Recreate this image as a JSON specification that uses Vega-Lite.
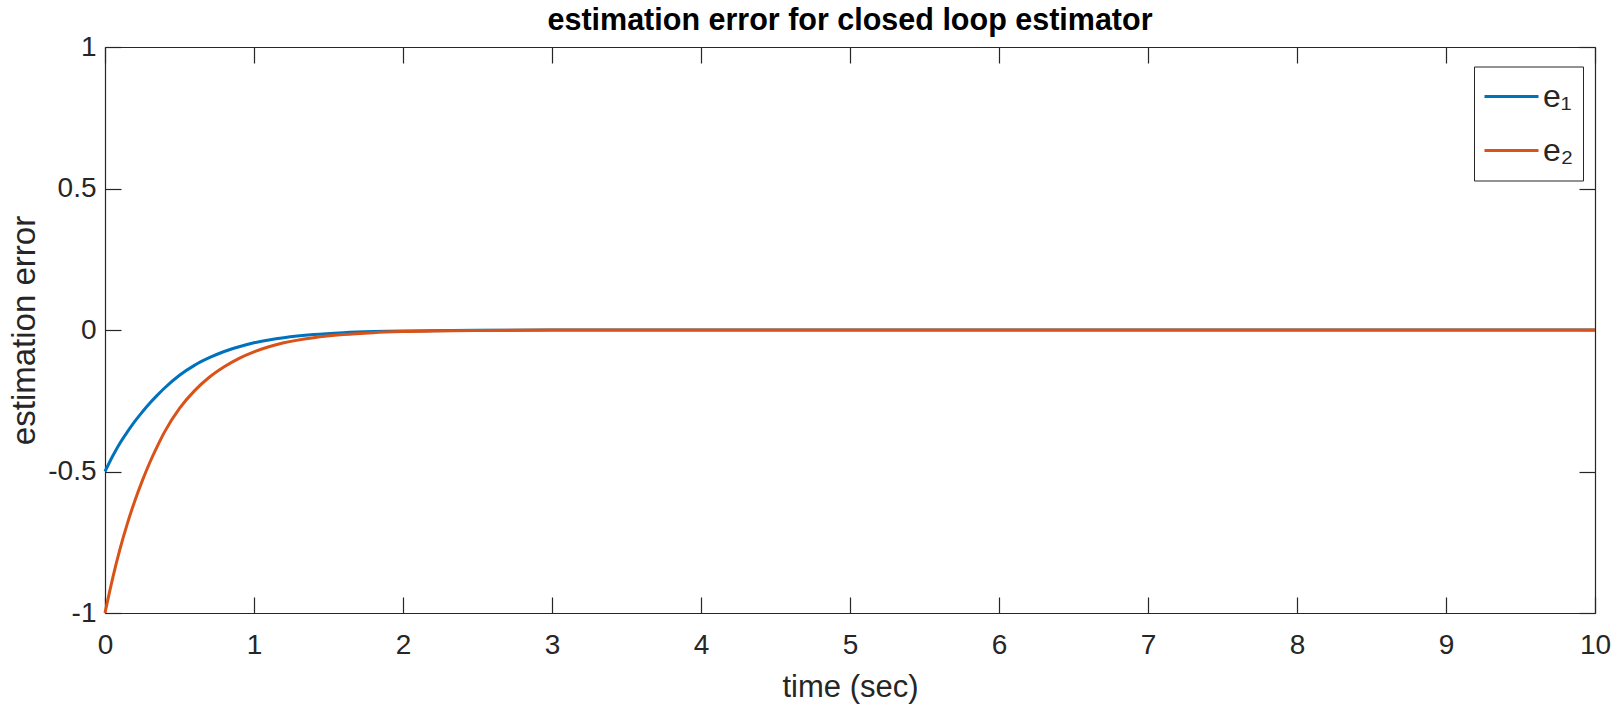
{
  "$schema": "https://vega.github.io/schema/vega-lite/v6.json",
  "width": 1490,
  "height": 566,
  "autosize": {"type": "none"},
  "padding": {"left": 105, "top": 47, "right": 28, "bottom": 93},
  "background": "white",
  "title": {"text": "estimation error for closed loop estimator", "fontSize": 30.5, "fontWeight": "bold", "font": "Liberation Sans", "color": "black", "anchor": "middle", "frame": "group", "baseline": "bottom", "offset": -33},
  "data": {"values": [
    {"t": 0, "series": "e₁", "v": -0.5},
    {"t": 0.05, "series": "e₁", "v": -0.447},
    {"t": 0.1, "series": "e₁", "v": -0.4},
    {"t": 0.15, "series": "e₁", "v": -0.36},
    {"t": 0.2, "series": "e₁", "v": -0.323},
    {"t": 0.25, "series": "e₁", "v": -0.29},
    {"t": 0.3, "series": "e₁", "v": -0.259},
    {"t": 0.35, "series": "e₁", "v": -0.231},
    {"t": 0.4, "series": "e₁", "v": -0.205},
    {"t": 0.5, "series": "e₁", "v": -0.16},
    {"t": 0.6, "series": "e₁", "v": -0.125},
    {"t": 0.7, "series": "e₁", "v": -0.098},
    {"t": 0.8, "series": "e₁", "v": -0.076},
    {"t": 0.9, "series": "e₁", "v": -0.059},
    {"t": 1.0, "series": "e₁", "v": -0.045},
    {"t": 1.1, "series": "e₁", "v": -0.035},
    {"t": 1.2, "series": "e₁", "v": -0.027},
    {"t": 1.4, "series": "e₁", "v": -0.016},
    {"t": 1.6, "series": "e₁", "v": -0.0095},
    {"t": 1.8, "series": "e₁", "v": -0.0056},
    {"t": 2.0, "series": "e₁", "v": -0.0033},
    {"t": 2.5, "series": "e₁", "v": -0.0009},
    {"t": 3, "series": "e₁", "v": -0.0002},
    {"t": 4, "series": "e₁", "v": 0},
    {"t": 5, "series": "e₁", "v": 0},
    {"t": 6, "series": "e₁", "v": 0},
    {"t": 7, "series": "e₁", "v": 0},
    {"t": 8, "series": "e₁", "v": 0},
    {"t": 9, "series": "e₁", "v": 0},
    {"t": 10, "series": "e₁", "v": 0},
    {"t": 0, "series": "e₂", "v": -1.0},
    {"t": 0.05, "series": "e₂", "v": -0.88},
    {"t": 0.1, "series": "e₂", "v": -0.775},
    {"t": 0.15, "series": "e₂", "v": -0.684},
    {"t": 0.2, "series": "e₂", "v": -0.604},
    {"t": 0.25, "series": "e₂", "v": -0.533},
    {"t": 0.3, "series": "e₂", "v": -0.469},
    {"t": 0.35, "series": "e₂", "v": -0.412},
    {"t": 0.4, "series": "e₂", "v": -0.36},
    {"t": 0.5, "series": "e₂", "v": -0.277},
    {"t": 0.6, "series": "e₂", "v": -0.215},
    {"t": 0.7, "series": "e₂", "v": -0.167},
    {"t": 0.8, "series": "e₂", "v": -0.13},
    {"t": 0.9, "series": "e₂", "v": -0.1},
    {"t": 1.0, "series": "e₂", "v": -0.077},
    {"t": 1.1, "series": "e₂", "v": -0.059},
    {"t": 1.2, "series": "e₂", "v": -0.045},
    {"t": 1.4, "series": "e₂", "v": -0.027},
    {"t": 1.6, "series": "e₂", "v": -0.016},
    {"t": 1.8, "series": "e₂", "v": -0.0095},
    {"t": 2.0, "series": "e₂", "v": -0.0056},
    {"t": 2.5, "series": "e₂", "v": -0.0015},
    {"t": 3, "series": "e₂", "v": -0.0004},
    {"t": 4, "series": "e₂", "v": 0},
    {"t": 5, "series": "e₂", "v": 0},
    {"t": 6, "series": "e₂", "v": 0},
    {"t": 7, "series": "e₂", "v": 0},
    {"t": 8, "series": "e₂", "v": 0},
    {"t": 9, "series": "e₂", "v": 0},
    {"t": 10, "series": "e₂", "v": 0}
  ]},
  "layer": [
    {
      "mark": {"type": "line", "strokeWidth": 3, "interpolate": "monotone"},
      "encoding": {
        "x": {"field": "t", "type": "quantitative", "scale": {"domain": [0, 10], "nice": false},
          "axis": {"orient": "bottom", "values": [0,1,2,3,4,5,6,7,8,9,10], "labelExpr": "datum.value + ''", "labelFontSize": 28, "labelPadding": 34, "labelFlush": false, "labelOverlap": false, "title": "time (sec)", "titleFontSize": 31, "titleBaseline": "alphabetic", "titleY": 83}},
        "y": {"field": "v", "type": "quantitative", "scale": {"domain": [-1, 1], "nice": false},
          "axis": {"orient": "left", "values": [-1,-0.5,0,0.5,1], "labelExpr": "datum.value + ''", "labelFontSize": 28, "labelPadding": 25, "labelFlush": false, "labelOverlap": false, "title": "estimation error", "titleFontSize": 33, "titleBaseline": "alphabetic", "titleX": -71, "titleAngle": -90}},
        "color": {"field": "series", "type": "nominal", "scale": {"domain": ["e₁", "e₂"], "range": ["#0072BD", "#D95319"]},
          "legend": {"orient": "none", "legendX": 1369, "legendY": 19.5, "title": null, "symbolType": "stroke", "symbolSize": 2916, "symbolStrokeWidth": 3, "labelFontSize": 32, "labelFont": "Liberation Sans", "labelColor": "#262626", "labelOffset": 3, "padding": 9, "clipHeight": 42, "rowPadding": 12, "strokeColor": "#262626", "fillColor": "white"}}
      }
    },
    {
      "mark": {"type": "line", "opacity": 0},
      "encoding": {
        "x": {"field": "t", "type": "quantitative", "axis": {"orient": "top", "values": [0,1,2,3,4,5,6,7,8,9,10], "labels": false, "title": null}},
        "y": {"field": "v", "type": "quantitative", "axis": {"orient": "right", "values": [-1,-0.5,0,0.5,1], "labels": false, "title": null}},
        "detail": {"field": "series"}
      }
    }
  ],
  "resolve": {"axis": {"x": "independent", "y": "independent"}},
  "config": {
    "font": "Liberation Sans",
    "view": {"stroke": null},
    "axis": {"grid": false, "domainColor": "#262626", "tickColor": "#262626", "labelColor": "#262626", "titleColor": "#262626", "labelFont": "Liberation Sans", "titleFont": "Liberation Sans", "titleFontWeight": "normal", "domainWidth": 1.2, "tickWidth": 1.2, "tickSize": -16}
  }
}
